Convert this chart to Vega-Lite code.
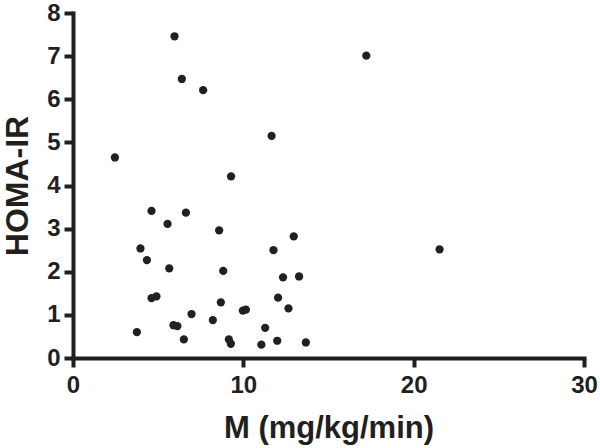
{
  "$schema": "https://vega.github.io/schema/vega-lite/v6.json",
  "autosize": {"type": "none"},
  "padding": {"left": 73, "top": 13, "right": 16, "bottom": 90},
  "width": 511,
  "height": 345,
  "background": "white",
  "config": {"view": {"stroke": null}},
  "data": {"values": [
    {"M": 5.96, "HOMA": 7.46}, {"M": 6.39, "HOMA": 6.47}, {"M": 7.64, "HOMA": 6.21},
    {"M": 11.66, "HOMA": 5.15}, {"M": 2.46, "HOMA": 4.65}, {"M": 9.28, "HOMA": 4.21},
    {"M": 17.22, "HOMA": 7.01}, {"M": 4.61, "HOMA": 3.41}, {"M": 6.63, "HOMA": 3.37},
    {"M": 5.55, "HOMA": 3.11}, {"M": 8.58, "HOMA": 2.96}, {"M": 3.96, "HOMA": 2.54},
    {"M": 4.34, "HOMA": 2.27}, {"M": 5.65, "HOMA": 2.08}, {"M": 8.82, "HOMA": 2.02},
    {"M": 11.77, "HOMA": 2.5}, {"M": 4.61, "HOMA": 1.39}, {"M": 4.9, "HOMA": 1.43},
    {"M": 8.68, "HOMA": 1.29}, {"M": 12.04, "HOMA": 1.4}, {"M": 6.96, "HOMA": 1.02},
    {"M": 8.21, "HOMA": 0.88}, {"M": 9.97, "HOMA": 1.1}, {"M": 10.15, "HOMA": 1.12},
    {"M": 5.9, "HOMA": 0.76}, {"M": 6.13, "HOMA": 0.74}, {"M": 3.75, "HOMA": 0.6},
    {"M": 6.51, "HOMA": 0.43}, {"M": 9.15, "HOMA": 0.43}, {"M": 9.27, "HOMA": 0.33},
    {"M": 11.28, "HOMA": 0.7}, {"M": 11.06, "HOMA": 0.31}, {"M": 11.99, "HOMA": 0.4},
    {"M": 12.96, "HOMA": 2.82}, {"M": 21.52, "HOMA": 2.52}, {"M": 12.33, "HOMA": 1.87},
    {"M": 13.27, "HOMA": 1.89}, {"M": 12.65, "HOMA": 1.15}, {"M": 13.67, "HOMA": 0.36}
  ]},
  "mark": {"type": "point", "filled": true, "shape": "circle", "size": 68, "opacity": 1, "color": "#231f20"},
  "encoding": {
    "x": {
      "field": "M", "type": "quantitative",
      "scale": {"domain": [0, 30], "nice": false, "zero": false},
      "axis": {
        "title": "M (mg/kg/min)", "values": [0, 10, 20, 30], "grid": false,
        "domainColor": "#231f20", "domainWidth": 4, "domainCap": "square",
        "tickColor": "#231f20", "tickWidth": 4, "tickSize": 9,
        "labelFont": "Liberation Sans", "labelFontWeight": "bold", "labelFontSize": 24, "labelColor": "#231f20",
        "labelPadding": 6, "labelFlush": false,
        "titleFont": "Liberation Sans", "titleFontWeight": "bold", "titleFontSize": 31, "titleColor": "#231f20",
        "titleX": 255.5, "titleY": 79, "titleAlign": "center", "titleBaseline": "alphabetic"
      }
    },
    "y": {
      "field": "HOMA", "type": "quantitative",
      "scale": {"domain": [0, 8], "nice": false, "zero": false},
      "axis": {
        "title": "HOMA-IR", "values": [0, 1, 2, 3, 4, 5, 6, 7, 8], "grid": false,
        "domainColor": "#231f20", "domainWidth": 4, "domainCap": "square",
        "tickColor": "#231f20", "tickWidth": 4, "tickSize": 9,
        "labelFont": "Liberation Sans", "labelFontWeight": "bold", "labelFontSize": 24, "labelColor": "#231f20",
        "labelPadding": 4, "labelFlush": false,
        "titleFont": "Liberation Sans", "titleFontWeight": "bold", "titleFontSize": 32, "titleColor": "#231f20",
        "titleX": -46, "titleY": 172.5, "titleAngle": -90, "titleAlign": "center", "titleBaseline": "alphabetic"
      }
    }
  }
}
